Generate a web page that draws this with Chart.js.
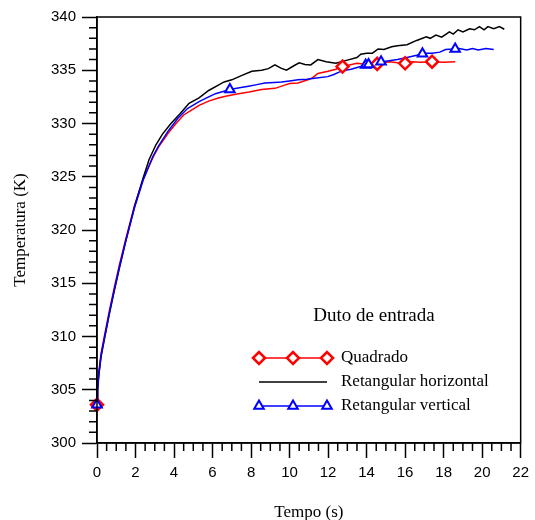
<!DOCTYPE html>
<html>
<head>
<meta charset="utf-8">
<script src="https://cdn.jsdelivr.net/npm/chart.js@4.4.1/dist/chart.umd.min.js"></script>
<style>
  html, body { margin: 0; padding: 0; background: #fff; }
  #wrap { width: 535px; height: 520px; }
</style>
</head>
<body>
<div id="wrap"><canvas id="c" width="535" height="520"></canvas></div>
<script>
// ---- data ----
const timeQuadrado = [0, 0.03, 0.09, 0.21, 0.38, 0.64, 0.9, 1.16, 1.5, 1.95, 2.4, 2.9, 3.2, 3.7, 4.1, 4.5, 4.95, 5.3, 5.8, 6.3, 6.8, 7.35, 7.9, 8.55, 9.24, 9.75, 10.0, 10.44, 10.95, 11.2, 11.47, 12.0, 12.4, 12.75, 13.1, 13.5, 14.0, 14.55, 14.9, 15.2, 15.6, 16.0, 16.4, 16.8, 17.4, 18.0, 18.6];
const tempQuadrado = [303.6, 305.1, 306.6, 308.4, 310.0, 312.4, 314.6, 316.7, 319.2, 322.3, 324.8, 326.8, 327.8, 329.1, 330.0, 330.8, 331.3, 331.7, 332.1, 332.4, 332.6, 332.8, 332.95, 333.2, 333.3, 333.6, 333.75, 333.8, 334.1, 334.3, 334.7, 334.9, 335.1, 335.35, 335.5, 335.65, 335.55, 335.6, 335.7, 335.8, 335.7, 335.65, 335.8, 335.75, 335.8, 335.75, 335.8];

const timeHorizontal = [0, 0.03, 0.09, 0.21, 0.38, 0.64, 0.9, 1.16, 1.5, 1.95, 2.4, 2.7, 3.06, 3.4, 3.84, 4.3, 4.78, 5.3, 5.8, 6.3, 6.6, 7.0, 7.5, 8.04, 8.55, 8.9, 9.24, 9.55, 9.84, 10.2, 10.5, 10.8, 11.1, 11.47, 11.9, 12.4, 12.7, 13.0, 13.5, 13.7, 14.0, 14.3, 14.6, 14.9, 15.3, 15.6, 16.1, 16.6, 17.1, 17.3, 17.6, 17.9, 18.3, 18.5, 18.75, 19.0, 19.35, 19.6, 19.86, 20.1, 20.3, 20.6, 20.9, 21.15];
const tempHorizontal = [303.6, 304.9, 306.3, 308.1, 309.7, 312.1, 314.3, 316.4, 319.0, 322.2, 324.9, 326.6, 328.0, 329.0, 330.0, 330.9, 331.9, 332.4, 333.1, 333.6, 333.9, 334.1, 334.5, 334.9, 335.0, 335.15, 335.5, 335.2, 335.0, 335.4, 335.7, 335.55, 335.5, 336.0, 335.8, 335.65, 335.8, 335.95, 336.2, 336.5, 336.6, 336.6, 337.0, 336.95, 337.2, 337.3, 337.4, 337.8, 338.15, 338.0, 338.3, 338.1, 338.6, 338.4, 338.8, 338.6, 338.9, 338.8, 339.1, 338.8, 339.1, 338.9, 339.1, 338.85];

const timeVertical = [0, 0.03, 0.09, 0.21, 0.38, 0.64, 0.9, 1.16, 1.5, 1.95, 2.4, 2.9, 3.2, 3.7, 4.2, 4.7, 5.3, 5.8, 6.15, 6.9, 7.4, 7.87, 8.3, 8.72, 9.2, 9.58, 10.0, 10.44, 10.9, 11.3, 11.98, 12.3, 12.6, 12.9, 13.2, 13.6, 14.0, 14.5, 15.0, 15.6, 16.1, 16.6, 17.0, 17.4, 17.8, 18.1, 18.5, 18.8, 19.2, 19.5, 19.8, 20.2, 20.6];
const tempVertical = [303.6, 305.0, 306.4, 308.2, 309.8, 312.2, 314.4, 316.5, 319.0, 322.1, 324.7, 326.9, 327.9, 329.3, 330.5, 331.4, 332.05, 332.5, 332.8, 333.2, 333.35, 333.5, 333.65, 333.8, 333.85, 333.9, 334.0, 334.1, 334.15, 334.25, 334.4, 334.6, 334.85, 335.0, 335.1, 335.3, 335.5, 335.7, 335.85, 336.0, 336.2, 336.4, 336.6, 336.6, 336.7, 336.95, 337.0, 337.05, 336.9, 337.05, 336.9, 337.05, 336.95];

const markerTimeQuadrado = [0, 12.75, 14.55, 16.0, 17.4];
const markerTempQuadrado = [303.6, 335.35, 335.6, 335.65, 335.8];
const markerTimeVertical = [0, 6.9, 13.95, 14.1, 14.75, 16.9, 18.6];
const markerTempVertical = [303.6, 333.2, 335.5, 335.55, 335.8, 336.55, 337.0];

const seriesNames = ['Quadrado', 'Retangular horizontal', 'Retangular vertical'];
const legendTitle = 'Duto de entrada';
const xTitle = 'Tempo (s)';
const yTitle = 'Temperatura (K)';
const xTicks = [0, 2, 4, 6, 8, 10, 12, 14, 16, 18, 20, 22];
const yTicks = [300, 305, 310, 315, 320, 325, 330, 335, 340];

// ---- build ----
const pts = (xs, ys) => xs.map((x, i) => ({ x: x, y: ys[i] }));
const RED = '#ff0000', BLUE = '#0000ff', BLACK = '#000000';

const datasets = [
  { label: seriesNames[0], data: pts(timeQuadrado, tempQuadrado), borderColor: RED, borderWidth: 1.5, pointRadius: 0, showLine: true, tension: 0, order: 6 },
  { label: seriesNames[1], data: pts(timeHorizontal, tempHorizontal), borderColor: BLACK, borderWidth: 1.5, pointRadius: 0, showLine: true, tension: 0, order: 5 },
  { label: seriesNames[2], data: pts(timeVertical, tempVertical), borderColor: BLUE, borderWidth: 1.5, pointRadius: 0, showLine: true, tension: 0, order: 4 },
  { label: seriesNames[0] + ' markers', data: pts(markerTimeQuadrado, markerTempQuadrado), showLine: false, clip: false, pointStyle: 'rectRot', pointRadius: 6, pointBorderWidth: 2.5, pointBorderColor: RED, pointBackgroundColor: '#ffffff', order: 3 },
  { label: seriesNames[2] + ' markers', data: pts(markerTimeVertical, markerTempVertical), showLine: false, clip: false, pointStyle: 'triangle', pointRadius: 5.5, pointBorderWidth: 2, pointBorderColor: BLUE, pointBackgroundColor: '#ffffff', order: 2 }
];

function drawMarker(ctx, style, x, y, r, stroke, lw) {
  ctx.save();
  ctx.strokeStyle = stroke; ctx.fillStyle = '#fff'; ctx.lineWidth = lw;
  ctx.beginPath();
  if (style === 'rectRot') {
    ctx.moveTo(x - r, y); ctx.lineTo(x, y - r); ctx.lineTo(x + r, y); ctx.lineTo(x, y + r);
  } else {
    const a = 2 * Math.PI / 3;
    ctx.moveTo(x, y - r);
    ctx.lineTo(x + Math.sin(a) * r, y - Math.cos(a) * r);
    ctx.lineTo(x + Math.sin(2 * a) * r, y - Math.cos(2 * a) * r);
  }
  ctx.closePath(); ctx.fill(); ctx.stroke();
  ctx.restore();
}

const framePlugin = {
  id: 'frame',
  afterDraw(chart) {
    const ctx = chart.ctx, a = chart.chartArea, xs = chart.scales.x, ys = chart.scales.y;
    ctx.save();
    ctx.strokeStyle = '#000'; ctx.lineWidth = 1.5;
    ctx.strokeRect(a.left, a.top, a.right - a.left, a.bottom - a.top);
    // minor ticks
    ctx.beginPath();
    for (let v = xs.min; v <= xs.max + 1e-9; v += 0.5) {
      if (Math.abs(v / 2 - Math.round(v / 2)) < 1e-6) continue;
      const p = xs.getPixelForValue(v);
      ctx.moveTo(p, a.bottom); ctx.lineTo(p, a.bottom + 8);
    }
    for (let v = ys.min; v <= ys.max + 1e-9; v += 1) {
      if (Math.abs(v / 5 - Math.round(v / 5)) < 1e-6) continue;
      const p = ys.getPixelForValue(v);
      ctx.moveTo(a.left, p); ctx.lineTo(a.left - 8, p);
    }
    ctx.stroke();

    // legend
    ctx.fillStyle = '#000';
    ctx.font = '19px "Liberation Serif", "Times New Roman", serif';
    ctx.textAlign = 'center'; ctx.textBaseline = 'middle';
    ctx.fillText(legendTitle, 374, 316);
    ctx.font = '17px "Liberation Serif", "Times New Roman", serif';
    ctx.textAlign = 'left';
    const rows = [
      { name: seriesNames[0], color: RED, marker: 'rectRot', r: 6, lw: 2.5, y: 358 },
      { name: seriesNames[1], color: BLACK, marker: null, y: 382 },
      { name: seriesNames[2], color: BLUE, marker: 'triangle', r: 5.5, lw: 2, y: 406 }
    ];
    rows.forEach(row => {
      ctx.strokeStyle = row.color; ctx.lineWidth = 1.5;
      ctx.beginPath(); ctx.moveTo(259, row.y); ctx.lineTo(327, row.y); ctx.stroke();
      if (row.marker) [259, 293, 327].forEach(mx => drawMarker(ctx, row.marker, mx, row.y, row.r, row.color, row.lw));
      ctx.fillStyle = '#000';
      ctx.fillText(row.name, 341, row.y);
    });
    ctx.restore();
  }
};

const tickFont = { family: '"Liberation Sans", Arial, sans-serif', size: 15 };
const titleFont = { family: '"Liberation Serif", "Times New Roman", serif', size: 17 };

new Chart(document.getElementById('c'), {
  type: 'scatter',
  data: { datasets },
  options: {
    responsive: false,
    animation: false,
    layout: { padding: { left: 0, right: 9, top: 17, bottom: 0 } },
    plugins: { legend: { display: false }, tooltip: { enabled: false } },
    elements: { line: { fill: false } },
    scales: {
      x: {
        type: 'linear', min: 0, max: 22,
        afterBuildTicks: s => { s.ticks = xTicks.map(v => ({ value: v })); },
        afterFit: s => { s.height = 77; },
        ticks: { font: tickFont, color: '#000', padding: 6, maxRotation: 0, autoSkip: false },
        grid: { drawOnChartArea: false, drawTicks: true, tickLength: 15, tickColor: '#000', tickWidth: 1.5 },
        border: { display: true, color: '#000', width: 1.5 },
        title: { display: true, text: xTitle, font: titleFont, color: '#000', padding: { top: 0, bottom: -3 } }
      },
      y: {
        type: 'linear', min: 300, max: 340,
        afterBuildTicks: s => { s.ticks = yTicks.map(v => ({ value: v })); },
        afterFit: s => { s.width = 97; },
        ticks: { font: tickFont, color: '#000', padding: 6, autoSkip: false },
        grid: { drawOnChartArea: false, drawTicks: true, tickLength: 15, tickColor: '#000', tickWidth: 1.5 },
        border: { display: true, color: '#000', width: 1.5 },
        title: { display: true, text: yTitle, font: titleFont, color: '#000', padding: { top: 10, bottom: 0 } }
      }
    }
  },
  plugins: [framePlugin]
});
</script>
</body>
</html>
